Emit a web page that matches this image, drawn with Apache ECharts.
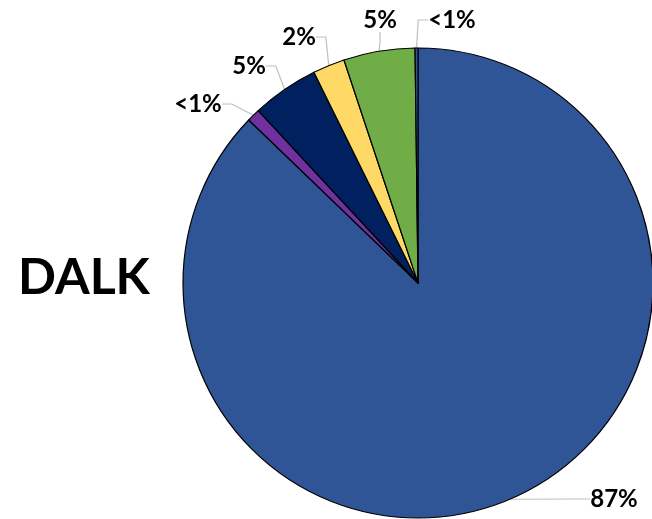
<!DOCTYPE html>
<html>
<head>
<meta charset="utf-8">
<style>
  html, body { margin: 0; padding: 0; background: #ffffff; }
  #chart { width: 652px; height: 519px; }
</style>
<script src="https://cdn.jsdelivr.net/npm/echarts@6/dist/echarts.min.js"></script>
</head>
<body>
<div id="chart"></div>
<script>
// Share of each group, clockwise from 12 o'clock
const categories = ['A', 'B', 'C', 'D', 'E', 'F'];
const shares = [87.2, 0.9, 4.6, 2.2, 4.9, 0.2];
const sliceColors = ['#2F5597', '#7030A0', '#002060', '#FFD966', '#70AD47', '#2F5597'];
const titleText = 'DALK';

function pctLabel(v) {
  return v < 1 ? '<1%' : Math.round(v) + '%';
}

// Where each percentage label sits (label centre, px)
const labelSpots = [
  [614, 499], [198, 104], [249, 66], [299, 37], [380, 20], [452, 20]
];

const chart = echarts.init(document.getElementById('chart'), null, { renderer: 'canvas' });

chart.setOption({
  animation: false,
  title: {
    text: titleText,
    left: 13,
    top: 248,
    textStyle: {
      fontFamily: 'Lato',
      fontWeight: 'bold',
      fontSize: 50,
      color: '#000000'
    }
  },
  series: [{
    type: 'pie',
    center: [418, 283],
    radius: 235,
    startAngle: 90,
    clockwise: true,
    avoidLabelOverlap: false,
    data: categories.map((name, i) => ({
      name: name,
      value: shares[i],
      itemStyle: { color: sliceColors[i] }
    })),
    itemStyle: {
      borderColor: '#000000',
      borderWidth: 1.2
    },
    label: {
      show: true,
      position: 'outside',
      formatter: p => pctLabel(p.value),
      fontFamily: 'Lato',
      fontWeight: 'bold',
      fontSize: 24,
      color: '#000000'
    },
    labelLine: {
      show: true,
      length: 12,
      length2: 10,
      lineStyle: { color: '#BFBFBF', width: 1.2 }
    },
    labelLayout: function (params) {
      const spot = labelSpots[params.dataIndex];
      return {
        x: spot[0],
        y: spot[1],
        align: 'center',
        verticalAlign: 'middle'
      };
    }
  }]
});
</script>
</body>
</html>
